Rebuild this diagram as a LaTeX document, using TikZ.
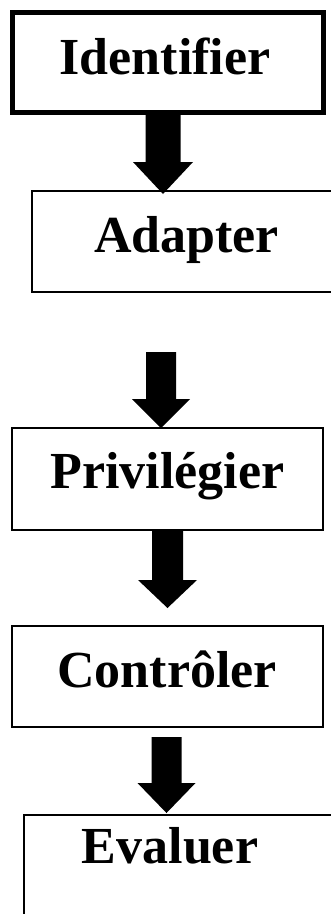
\documentclass[tikz,border=0pt]{standalone}
\usepackage{fontspec}
\setmainfont{Liberation Serif}[Ligatures=NoCommon]
\usetikzlibrary{calc}
\newcommand\BlkArrow[5]{% #1 start, #2 tip, #3 shaft half width, #4 head half width, #5 head length
  \fill[black] ($(#1)+(-#3,0)$) -- ($(#1)+(#3,0)$) -- ($(#2)+(#3,-#5)$) -- ($(#2)+(#4,-#5)$)
    -- (#2) -- ($(#2)+(-#4,-#5)$) -- ($(#2)+(-#3,-#5)$) -- cycle;}
\begin{document}
\begin{tikzpicture}[x=1pt,y=-1pt,
  box/.style={draw=black, line width=2pt, inner sep=0pt, outer sep=0pt},
  bigbox/.style={draw=black, line width=5pt, inner sep=0pt, outer sep=0pt},
  lbl/.style={anchor=base, inner sep=0pt, font=\fontsize{52}{60}\selectfont\bfseries}]
\clip (0,0) rectangle (331,914);
\fill[white] (0,0) rectangle (331,914);
% boxes
\node[bigbox, minimum width=311pt, minimum height=100pt] (idbox) at (168,62) {};
\node[box, minimum width=313pt, minimum height=101pt] (adbox) at (188.5,241.5) {};
\node[box, minimum width=311pt, minimum height=102pt] (prbox) at (167.5,479) {};
\node[box, minimum width=311pt, minimum height=101pt] (cobox) at (167.5,676.5) {};
\node[box, minimum width=321pt, minimum height=120pt] (evbox) at (184.5,875) {};
% texts
\node[lbl] (t1) at (165,74) {Identifier};
\node[lbl] (t2) at (186.5,252) {Adapter};
\node[lbl] (t3) at (167.5,488) {Privilégier};
\node[lbl] (t4) at (167,687) {Contrôler};
\node[lbl] (t5) at (170,863) {Evaluer};
% arrow coordinates
\coordinate (a1s) at (163,112);   \coordinate (a1t) at (163,194);
\coordinate (a2s) at (161,352);   \coordinate (a2t) at (161,428);
\coordinate (a3s) at (167.5,531); \coordinate (a3t) at (167.5,608);
\coordinate (a4s) at (166.5,737); \coordinate (a4t) at (166.5,813);
\BlkArrow{a1s}{a1t}{17.5}{30}{32}
\BlkArrow{a2s}{a2t}{15}{29}{29}
\BlkArrow{a3s}{a3t}{15.5}{29.5}{28}
\BlkArrow{a4s}{a4t}{15}{29}{30}
\end{tikzpicture}
\end{document}
